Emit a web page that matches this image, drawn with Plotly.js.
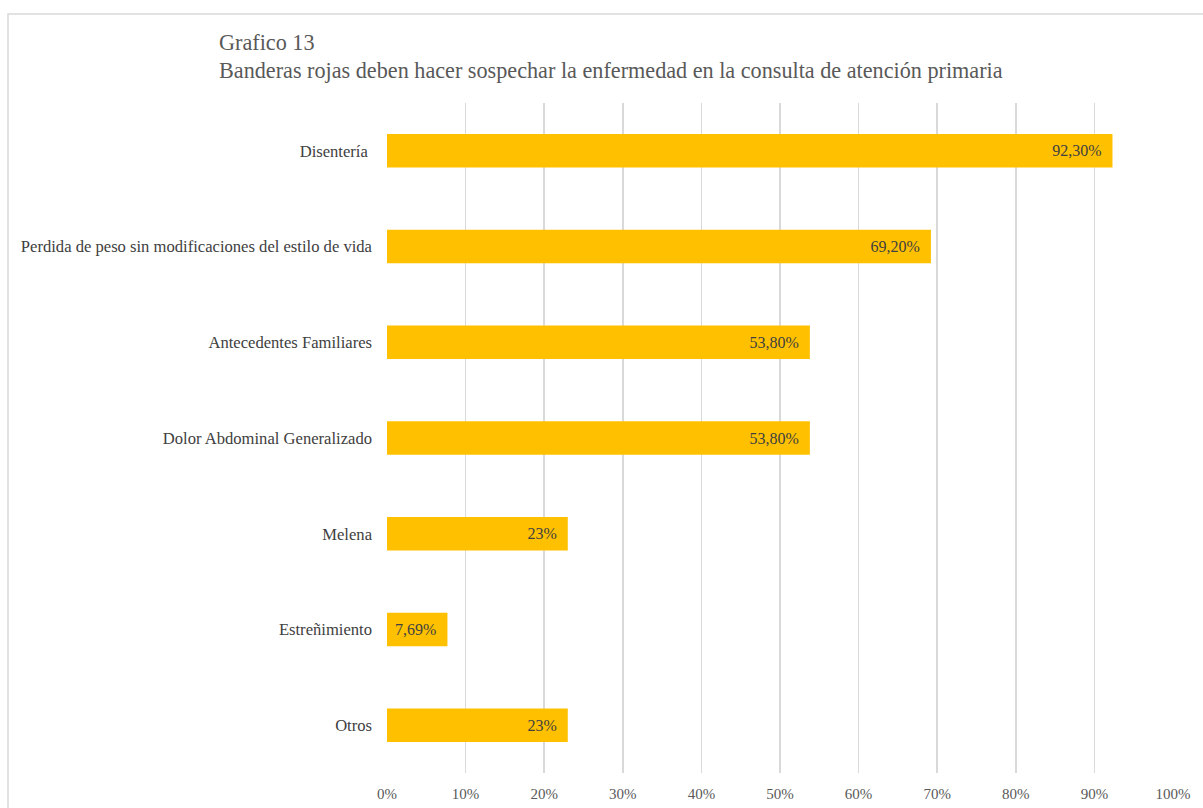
<!DOCTYPE html>
<html>
<head>
<meta charset="utf-8">
<script src="https://cdn.plot.ly/plotly-3.0.1.min.js"></script>
<style>html,body{margin:0;padding:0;background:#fff;}#chart{width:1203px;height:808px;}</style>
</head>
<body>
<div id="chart"></div>
<script>
var categories = ["Disentería ", "Perdida de peso sin modificaciones del estilo de vida", "Antecedentes Familiares", "Dolor Abdominal Generalizado", "Melena", "Estreñimiento", "Otros"];
var values = [0.923, 0.692, 0.538, 0.538, 0.23, 0.0769, 0.23];
var valueLabels = ["92,30%", "69,20%", "53,80%", "53,80%", "23%", "7,69%", "23%"];
var tickVals = [0, 0.1, 0.2, 0.3, 0.4, 0.5, 0.6, 0.7, 0.8, 0.9, 1.0];
var tickLabels = ["0%", "10%", "20%", "30%", "40%", "50%", "60%", "70%", "80%", "90%", "100%"];
var titleLines = ["Grafico 13", "Banderas rojas deben hacer sospechar la enfermedad en la consulta de atención primaria"];

var serif = "Liberation Serif, Times New Roman, serif";

var trace = {
  type: "bar",
  orientation: "h",
  y: categories,
  x: values,
  text: valueLabels,
  texttemplate: "%{text}\u00a0\u00a0",
  textposition: "inside",
  insidetextanchor: "end",
  textangle: 0,
  textfont: {family: serif, size: 16, color: "#404040"},
  marker: {color: "#FFC000"},
  hoverinfo: "skip",
  cliponaxis: false
};

var titleY = [43, 70];
var annotations = titleLines.map(function (t, i) {
  return {
    text: t,
    xref: "paper", yref: "paper",
    x: (217 - 387) / 786, xanchor: "left",
    y: (773 - titleY[i]) / 670, yanchor: "middle",
    showarrow: false,
    font: {family: serif, size: 22.2, color: "#595959"}
  };
});

var layout = {
  width: 1203,
  height: 808,
  margin: {l: 387, r: 30, t: 103, b: 35},
  paper_bgcolor: "#ffffff",
  plot_bgcolor: "#ffffff",
  bargap: 0.65,
  showlegend: false,
  font: {family: serif},
  annotations: annotations,
  xaxis: {
    range: [0, 1],
    tickvals: tickVals,
    ticktext: tickLabels,
    showgrid: true,
    gridcolor: "#d9d9d9",
    gridwidth: 1.5,
    zeroline: false,
    showline: false,
    ticks: "",
    ticklabelstandoff: 10,
    tickfont: {family: serif, size: 15, color: "#595959"},
    fixedrange: true
  },
  yaxis: {
    type: "category",
    autorange: "reversed",
    showgrid: false,
    zeroline: false,
    showline: false,
    ticks: "",
    ticklabelstandoff: 14,
    tickfont: {family: serif, size: 16.6, color: "#404040"},
    fixedrange: true
  },
  shapes: [{
    type: "rect",
    xref: "paper", yref: "paper",
    x0: (8 - 387) / 786, x1: 1.2,
    y0: -0.2, y1: 1 + (103 - 14) / 670,
    line: {color: "#d9d9d9", width: 1.5},
    fillcolor: "rgba(0,0,0,0)",
    layer: "below"
  }]
};

Plotly.newPlot("chart", [trace], layout, {displayModeBar: false, staticPlot: true});
</script>
</body>
</html>
